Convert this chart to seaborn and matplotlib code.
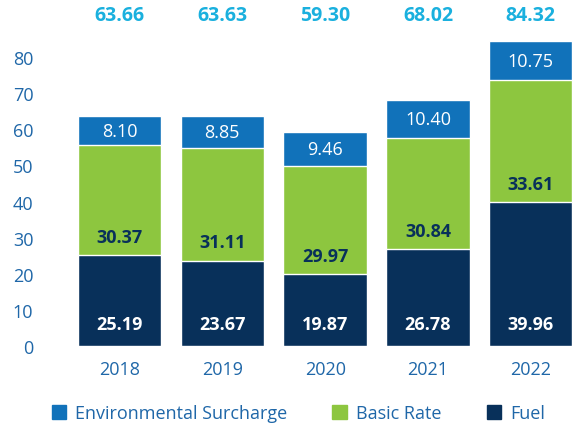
import matplotlib
matplotlib.use("Agg")
import matplotlib.pyplot as plt
import seaborn as sns
import pandas as pd
from matplotlib.patches import Patch

years = ["2018", "2019", "2020", "2021", "2022"]
fuel = [25.19, 23.67, 19.87, 26.78, 39.96]
basic_rate = [30.37, 31.11, 29.97, 30.84, 33.61]
env_surcharge = [8.10, 8.85, 9.46, 10.40, 10.75]
totals = ["63.66", "63.63", "59.30", "68.02", "84.32"]

c_env = "#1172ba"
c_basic = "#8dc63f"
c_fuel = "#08305a"
c_text = "#1f67a8"
c_total = "#1ab0de"

sns.set_theme(style="white")
plt.rcParams["font.family"] = ["Open Sans", "DejaVu Sans"]

df = pd.DataFrame({"year": years, "fuel": fuel, "basic": basic_rate, "env": env_surcharge})
df["fuel_basic"] = df["fuel"] + df["basic"]
df["total"] = df["fuel_basic"] + df["env"]

fig = plt.figure(figsize=(5.78, 4.31), dpi=100)
ax = fig.add_axes([68 / 578, 84 / 431, 505 / 578, 307 / 431])

# layered bars: total, then fuel+basic, then fuel on top
sns.barplot(data=df, x="year", y="total", color=c_env, width=0.81, saturation=1, ax=ax)
sns.barplot(data=df, x="year", y="fuel_basic", color=c_basic, width=0.81, saturation=1, ax=ax)
sns.barplot(data=df, x="year", y="fuel", color=c_fuel, width=0.81, saturation=1, ax=ax)

ax.set_xlim(-0.5, 4.41)
ax.set_ylim(0, 85)
ax.set_yticks(range(0, 81, 10))
ax.set_xlabel("")
ax.set_ylabel("")
sns.despine(ax=ax, left=True, bottom=True)
ax.tick_params(axis="both", length=0, labelsize=13, labelcolor=c_text)
ax.tick_params(axis="y", pad=25)
ax.tick_params(axis="x", pad=10)

for i, row in df.iterrows():
    ax.text(i, 6, f"{row['fuel']:.2f}", ha="center", va="center",
            color="white", fontsize=13, fontweight="bold")
    ax.text(i, row["fuel"] + 5, f"{row['basic']:.2f}", ha="center", va="center",
            color=c_fuel, fontsize=13, fontweight="bold")
    ax.text(i, row["fuel_basic"] + row["env"] / 2, f"{row['env']:.2f}", ha="center",
            va="center", color="white", fontsize=13)
    ax.text(i, 91.6, totals[i], ha="center", va="center", color=c_total,
            fontsize=14, fontweight="bold", clip_on=False)

handles = [Patch(color=c_env), Patch(color=c_basic), Patch(color=c_fuel)]
labels = ["Environmental Surcharge", "Basic Rate", "Fuel"]
leg = fig.legend(handles, labels, loc="center", bbox_to_anchor=(0.516, 17 / 431), ncol=3,
                 frameon=False, fontsize=13, handlelength=0.8, handleheight=0.8,
                 handletextpad=0.5, columnspacing=2.5)
for t in leg.get_texts():
    t.set_color(c_text)

fig.savefig("out.png", dpi=100)
